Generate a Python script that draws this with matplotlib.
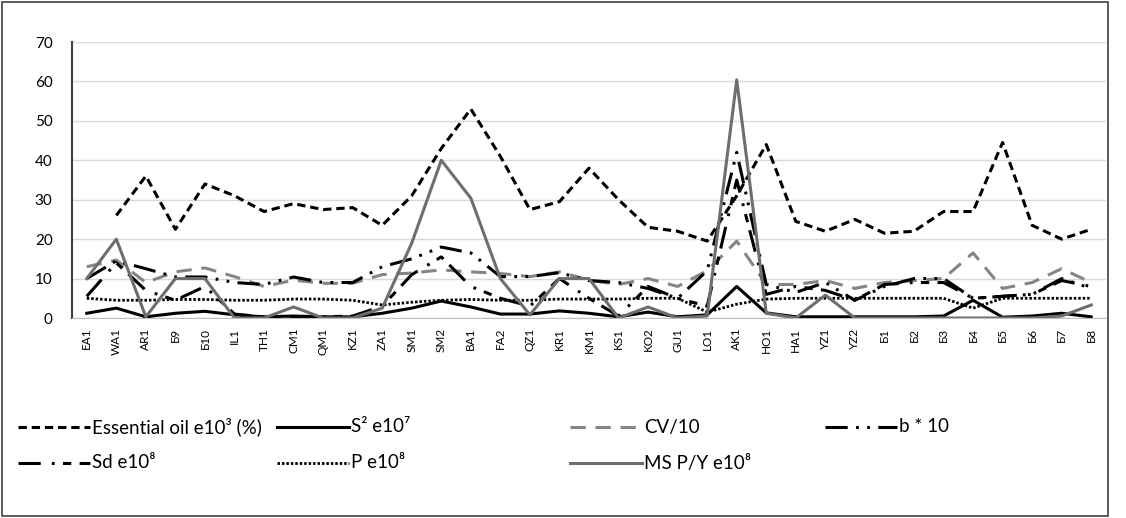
import numpy as np
import matplotlib
matplotlib.use('Agg')
import matplotlib.pyplot as plt
from matplotlib.lines import Line2D
from matplotlib.patches import Rectangle

plt.rcParams['font.family'] = ['Lato', 'DejaVu Sans']
plt.rcParams['lines.scale_dashes'] = False

categories = ['EA1', 'WA1', 'AR1', 'Б9', 'Б10', 'IL1', 'TH1', 'CM1', 'QM1', 'KZ1', 'ZA1', 'SM1',
              'SM2', 'BA1', 'FA2', 'QZ1', 'KR1', 'KM1', 'KS1', 'KO2', 'GU1', 'LO1', 'AK1', 'HO1',
              'HA1', 'YZ1', 'YZ2', 'Б1', 'Б2', 'Б3', 'Б4', 'Б5', 'Б6', 'Б7', 'Б8']

essential_oil = [np.nan, 26, 36, 22.5, 34, 31, 27, 29, 27.5, 28, 23.5, 31, 43, 53, 41, 27.5, 29.5, 38,
                 30, 23, 22, 19.5, 31, 44, 24.5, 22, 25, 21.5, 22, 27, 27, 44.5, 23.5, 20, 22.5]
s2 = [1.2, 2.5, 0.3, 1.2, 1.7, 0.8, 0.3, 0.5, 0.3, 0.3, 1.2, 2.5, 4.3, 2.8, 1.0, 1.0, 1.8, 1.2,
      0.3, 1.5, 0.3, 0.8, 8, 1.3, 0.3, 0.3, 0.3, 0.3, 0.3, 0.5, 4.5, 0.2, 0.5, 1.2, 0.3]
cv = [13, 14.7, 9, 11.7, 12.7, 10.5, 8, 9.6, 8.8, 8.8, 11, 11.4, 12.2, 11.7, 11.3, 10.5, 11.7, 9.6,
      8.5, 10, 8, 12, 19.5, 8.5, 8.5, 9.5, 7.5, 9, 9.5, 10, 16.5, 7.5, 9, 12.5, 9]
b10 = [10, 14.5, 12.5, 10.4, 10.4, 9, 8.5, 10.4, 9, 9, 13, 15, 18, 16.5, 10.5, 10.5, 11.5, 9.5,
       9, 7.5, 5, 12, 42, 8.5, 6.5, 9, 4.5, 8, 10, 10, 5, 5.5, 6, 10, 7.5]
sd = [5.5, 14, 7, 4.5, 8, 1, 0.3, 0.3, 0.3, 0.5, 3, 11, 15.5, 8, 5, 3, 10, 5, 0.5, 8, 5, 3, 35,
      6, 8, 7, 4.5, 8.5, 9, 9, 5, 5.5, 6, 9.5, 8]
p = [5, 4.5, 4.5, 4.7, 4.7, 4.5, 4.5, 4.8, 4.8, 4.5, 3.3, 4, 4.5, 4.7, 4.5, 4.5, 4.8, 4.8, 4.8, 5,
     5, 1.5, 3.5, 4.8, 5, 5, 5, 5, 5, 5, 2.5, 5, 5, 5, 5]
ms_py = [10, 20, 0.3, 10, 10, 0, 0, 2.8, 0, 0, 2.5, 19, 40, 30.4, 10, 0.8, 10, 10, 0, 2.8, 0, 0.5,
         60.4, 1.2, 0, 5.8, 0, 0, 0, 0, 0, 0, 0, 0.5, 3.3]

# label, values, colour, width, dash
series = [
    ('Essential oil e10³ (%)', essential_oil, 'black', 2.2, (0, (6, 3.5))),
    ('S² e10⁷', s2, 'black', 2.2, '-'),
    ('CV/10', cv, '#858585', 2.2, (0, (11, 7))),
    ('b * 10', b10, 'black', 2.2, (0, (16, 6, 2, 6, 2, 6))),
    ('Sd e10⁸', sd, 'black', 2.2, (0, (16, 8, 2, 6, 6, 6))),
    ('P e10⁸', p, 'black', 2.0, (0, (1.8, 1.4))),
    ('MS P/Y e10⁸', ms_py, '#6e6e6e', 2.2, '-'),
]

W, H = 1126, 518
fig = plt.figure(figsize=(W / 100, H / 100), dpi=100)
fig.add_artist(Rectangle((2 / W, 2 / H), 1106 / W, 514 / H, transform=fig.transFigure,
                         fill=False, edgecolor='#404040', linewidth=1.2))

ax = fig.add_axes([72 / W, 1 - 318 / H, (1106 - 72) / W, (318 - 42) / H])
x = np.arange(len(categories))

for label, vals, col, lw, ls in series:
    ax.plot(x, vals, color=col, lw=lw, ls=ls, label=label)

ax.set_xlim(-0.5, len(categories) - 0.5)
ax.set_ylim(0, 70)
ax.set_yticks(range(0, 71, 10))
ax.set_xticks(x)
ax.set_xticklabels(categories, rotation=90, fontsize=8.5)
ax.tick_params(axis='x', length=0, pad=7)
ax.tick_params(axis='y', length=0, pad=14, labelsize=11)
ax.grid(axis='y', color='#d9d9d9', lw=1)
ax.set_axisbelow(True)
for side in ['top', 'right']:
    ax.spines[side].set_visible(False)
ax.spines['bottom'].set_color('#bfbfbf')
ax.spines['left'].set_color('#404040')
ax.spines['left'].set_linewidth(1.5)

# legend laid out like the Excel one: row-major, uneven columns
legend_pos = [(18, 427), (277, 427), (570, 427), (825, 427),
              (18, 463), (277, 463), (570, 463)]
for (px, py), (label, vals, col, lw, ls) in zip(legend_pos, series):
    fy = 1 - py / H
    fig.add_artist(Line2D([px / W, (px + 72) / W], [fy, fy], transform=fig.transFigure,
                          color=col, lw=lw, ls=ls))
    fig.text((px + 74) / W, fy, label, fontsize=13.5, va='center', ha='left')

fig.savefig('out.png', dpi=100)
